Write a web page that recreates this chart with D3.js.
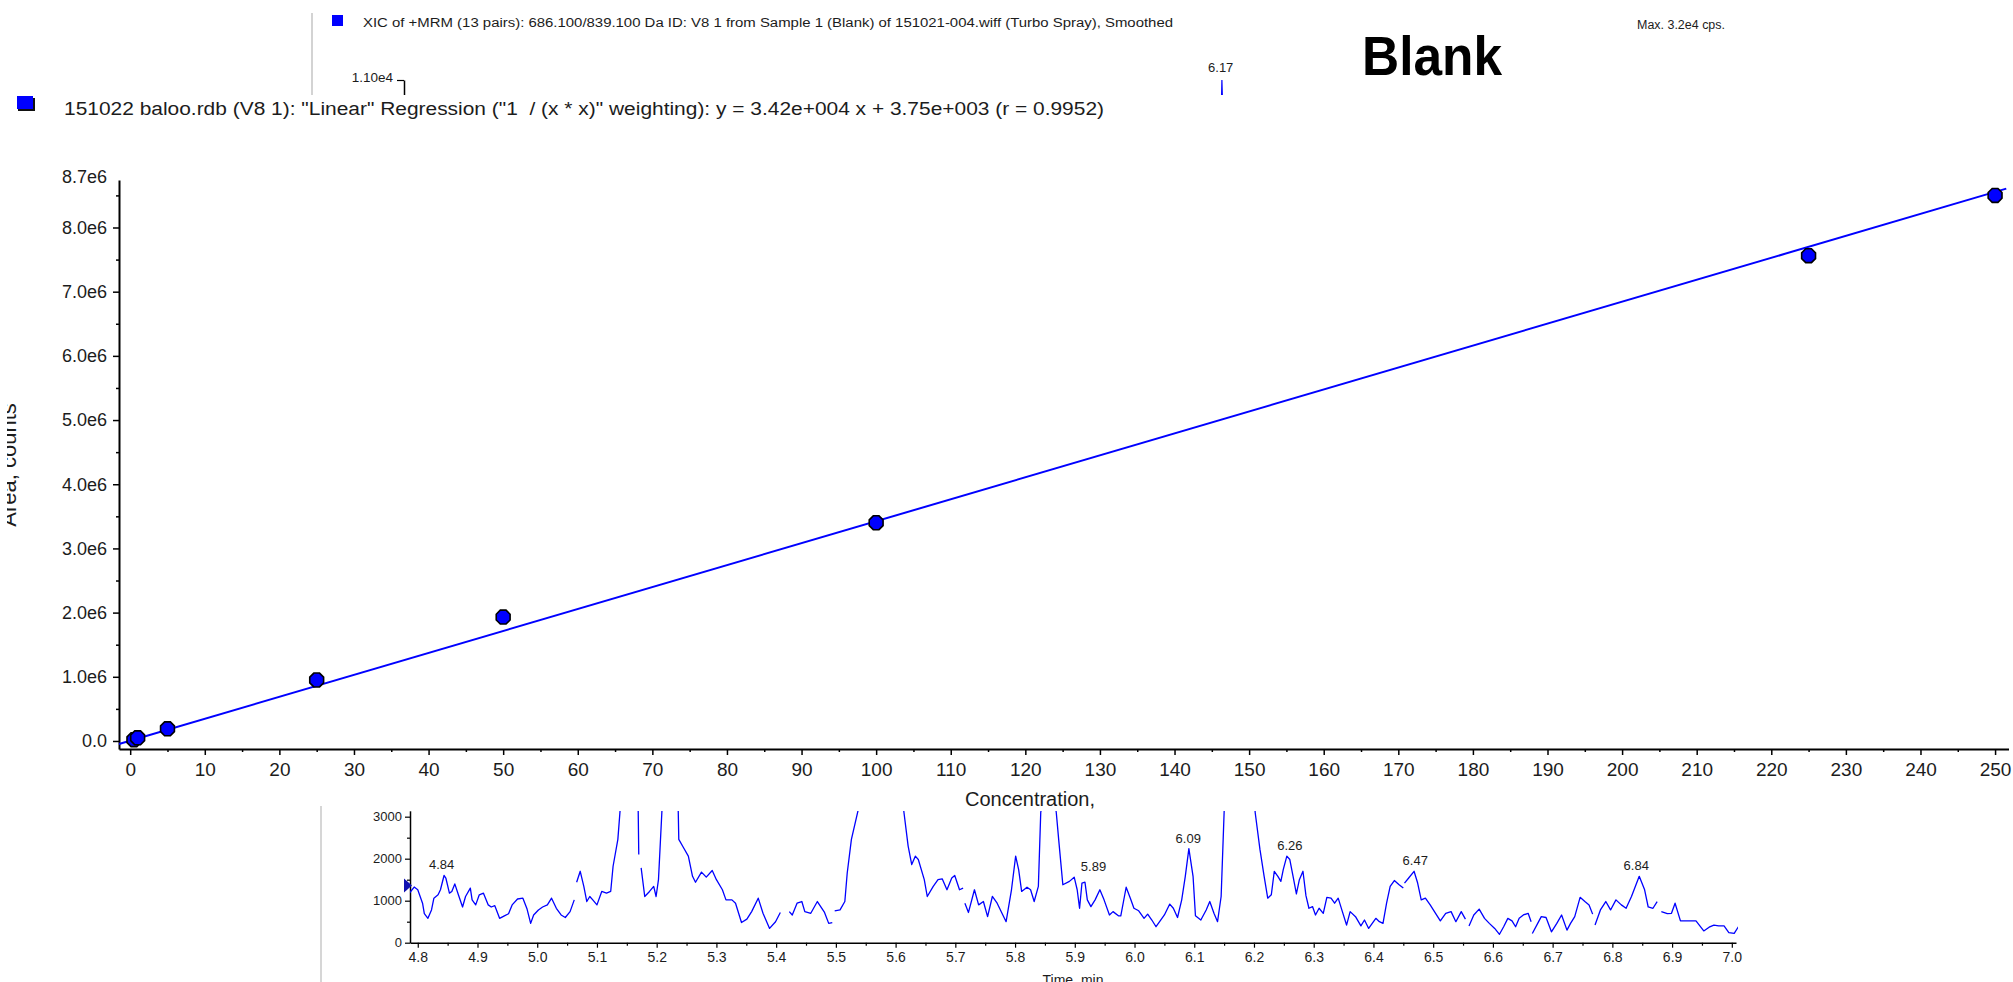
<!DOCTYPE html>
<html>
<head>
<meta charset="utf-8">
<script src="https://cdn.jsdelivr.net/npm/d3@7"></script>
<style>
  html, body { margin: 0; padding: 0; background: #fff; }
  svg { display: block; }
  text { font-family: "Liberation Sans", Arial, sans-serif; fill: #1c1c1c; }
  .axis .domain { stroke: #000; stroke-width: 2; }
  .axis .tick line { stroke: #000; stroke-width: 1.5; }
  .caxis .domain { stroke: #000; stroke-width: 1.5; }
  .caxis .tick line { stroke: #000; stroke-width: 1.2; }
</style>
</head>
<body>
<svg id="chart" width="2013" height="982"></svg>
<script>
// ---- Calibration standards (concentration vs. peak area) ----
const concentrations = [0.5, 1, 5, 25, 50, 100, 225, 250];
const areas = [0.02e6, 0.05e6, 0.19e6, 0.95e6, 1.93e6, 3.40e6, 7.56e6, 8.50e6];

// Weighted (1/x^2) linear regression reported for the curve
const fitSlope = 3.42e4;
const fitIntercept = 3.75e3;
const fitR = 0.9952;

// Axis ticks of the calibration curve
const areaTickValues = [0, 1e6, 2e6, 3e6, 4e6, 5e6, 6e6, 7e6, 8e6];
const areaTickLabels = ["0.0", "1.0e6", "2.0e6", "3.0e6", "4.0e6", "5.0e6", "6.0e6", "7.0e6", "8.0e6"];
const areaMax = 8.7e6;
const areaMaxLabel = "8.7e6";
const concTickValues = d3.range(0, 251, 10);
const concMinorTicks = d3.range(5, 250, 10);

// ---- XIC trace of the blank (time in min, intensity in cps); null = gap ----
const chromTime = [
  4.786,4.794,4.800,4.808,4.811,4.817,4.823,4.827,4.834,4.838,
  4.844,4.847,4.853,4.857,4.862,4.868,4.875,4.880,4.888,4.891,
  4.897,4.903,4.910,4.918,4.923,4.929,4.937,4.945,4.952,4.958,
  4.967,4.976,4.983,4.989,4.994,5.002,5.009,5.017,5.024,5.032,
  5.040,5.047,5.055,5.062,
  null,
  5.066,5.072,5.078,5.083,5.088,5.093,5.100,5.108,5.116,5.123,
  5.127,5.135,5.139,5.150,5.165,5.169,5.170,
  null,
  5.174,5.180,5.188,5.195,5.199,5.203,5.209,5.222,5.236,5.237,
  5.245,5.253,5.260,5.265,5.275,5.283,5.293,5.300,5.310,5.316,
  5.326,5.332,5.342,5.351,5.359,5.370,5.378,5.389,5.399,5.407,
  null,
  5.422,5.427,5.435,5.443,5.448,5.458,5.469,5.481,5.488,5.494,
  null,
  5.498,5.507,5.515,5.519,5.526,5.538,5.572,5.614,5.621,5.627,
  5.633,5.638,5.648,5.653,5.663,5.671,5.678,5.686,5.694,5.699,
  5.707,5.713,
  null,
  5.716,5.722,5.732,5.739,5.747,5.754,5.762,5.770,5.785,5.794,
  5.801,5.806,5.811,5.820,5.826,5.832,5.839,5.843,5.857,5.869,
  5.873,5.880,5.891,5.899,5.904,5.908,5.912,5.917,5.921,5.927,
  5.934,5.942,5.949,5.958,5.964,5.973,5.977,5.986,5.993,5.999,
  6.007,6.016,6.022,6.029,6.036,6.042,6.050,6.059,6.065,6.072,
  6.079,6.085,6.091,6.098,6.102,6.111,6.120,6.126,6.133,6.139,
  6.145,6.150,6.172,6.202,6.210,6.217,6.223,6.229,6.234,6.240,
  6.245,6.249,6.255,6.260,6.266,6.271,6.276,6.282,6.287,6.292,
  6.298,6.303,6.309,6.316,6.322,6.329,6.335,6.341,6.348,6.355,
  6.361,6.370,6.379,6.385,6.392,6.398,6.404,6.410,6.416,6.422,
  6.428,6.435,6.443,6.450,
  null,
  6.452,6.459,6.468,6.474,6.480,6.487,6.495,6.504,6.512,6.521,
  6.530,6.538,6.547,6.554,
  null,
  6.560,6.568,6.577,6.586,6.594,6.603,6.611,6.618,6.625,6.632,
  6.638,6.644,6.651,6.659,6.664,
  null,
  6.666,6.675,6.681,6.689,6.698,6.707,6.715,6.724,6.730,6.737,
  6.746,6.754,6.761,6.767,
  null,
  6.771,6.780,6.789,6.797,6.806,6.815,6.823,6.832,6.845,6.854,
  6.860,6.868,6.875,
  null,
  6.882,6.892,6.899,6.905,6.914,6.927,6.940,6.953,6.962,6.970,
  6.978,6.987,6.995,7.004,7.011
];
const chromIntensity = [
  1180,1325,1260,940,690,580,780,1060,1140,1260,
  1600,1540,1180,1220,1400,1140,850,1100,1300,1020,
  900,1140,1180,900,850,880,580,640,690,900,
  1040,1060,800,460,660,780,850,900,1060,820,
  660,600,740,1020,
  null,
  1440,1700,1340,980,1100,1020,900,1220,1180,1220,
  1820,2460,3200,4600,3600,3200,2100,
  null,
  1780,1100,1220,1340,1100,1500,3200,5400,3200,2460,
  2260,2060,1580,1440,1680,1560,1720,1500,1260,1020,
  1020,940,480,560,740,1060,700,340,500,720,
  null,
  740,660,940,980,740,700,980,720,460,480,
  null,
  760,780,980,1660,2460,3200,8200,3100,2300,1860,
  2060,1980,1500,1100,1340,1500,1520,1260,1540,1600,
  1260,1300,
  null,
  940,720,1260,900,980,620,1100,940,500,1260,
  2060,1740,1220,1320,1260,980,1340,3100,4300,3100,
  2460,1380,1460,1560,1260,820,1420,1440,1020,860,
  1020,1260,1020,660,740,640,640,1320,1060,820,
  760,580,680,540,380,500,660,920,820,600,
  1020,1580,2240,1580,640,540,780,980,700,500,
  1100,3100,11000,3100,2220,1580,1060,1140,1700,1580,
  1460,1740,2060,1980,1540,1160,1500,1700,1120,820,
  860,660,820,700,1080,1060,940,1060,740,420,
  740,620,400,540,340,460,580,500,460,940,
  1340,1480,1380,1300,
  null,
  1420,1540,1700,1420,1020,1060,900,700,520,700,
  740,500,740,560,
  null,
  400,660,800,580,460,340,200,380,580,520,
  380,580,660,700,500,
  null,
  220,460,620,600,260,460,660,300,460,620,
  1080,980,900,680,
  null,
  420,780,980,780,1020,900,820,1100,1580,1260,
  850,820,980,
  null,
  740,690,700,940,520,520,520,280,370,420,
  400,400,240,220,380
];

// Labelled peak apexes in the visible window
const peakTimes = [4.84, 5.89, 6.09, 6.26, 6.47, 6.84];
const peakApex = [1600, 1560, 2240, 2060, 1700, 1580];
const peakText = ["4.84", "5.89", "6.09", "6.26", "6.47", "6.84"];
const peakAnchor = ["middle", "start", "middle", "middle", "middle", "middle"];
// Apex of the tall peak, shown on the full-scale trace
const tallPeakTime = 6.17;
const tallPeakText = "6.17";

const timeTicks = d3.range(48, 71).map(v => v / 10);
const timeMinorTicks = d3.range(48, 70).map(v => v / 10 + 0.05);
const intensityTicks = [0, 1000, 2000, 3000];
const intensityMinorTicks = [500, 1500, 2500];
const fullScaleTick = 1.10e4;
const fullScaleLabel = "1.10e4";
const maxIntensityText = "Max. 3.2e4 cps.";

const xicTitle = "XIC of +MRM (13 pairs): 686.100/839.100 Da ID: V8 1 from Sample 1 (Blank) of 151021-004.wiff (Turbo Spray), Smoothed";
const sampleTitle = "Blank";

// ------------------------------------------------------------------
const svg = d3.select("#chart");
const blue = "#0000ff";

function sci(v) {
  const e = Math.floor(Math.log10(Math.abs(v)));
  const m = v / Math.pow(10, e);
  return m.toFixed(2) + "e" + (e >= 0 ? "+" : "-") + String(Math.abs(e)).padStart(3, "0");
}

const defs = svg.append("defs");
defs.append("clipPath").attr("id", "clipTop")
  .append("rect").attr("x", 0).attr("y", 0).attr("width", 2013).attr("height", 95);
defs.append("clipPath").attr("id", "clipChrom")
  .append("rect").attr("x", 410).attr("y", 811).attr("width", 1328).attr("height", 132);
defs.append("clipPath").attr("id", "clipYLabel")
  .append("rect").attr("x", 7).attr("y", 0).attr("width", 100).attr("height", 982);

// ================= Background XIC window =================
// Full-scale view (only its top strip shows above the calibration window)
const upperX = d3.scaleLinear().domain([4.787, 7.007]).range([404, 1715]);
const upperY = d3.scaleLinear().domain([0, 11000]).range([942.7, 80]);

const topG = svg.append("g");
topG.append("line")
  .attr("x1", 312).attr("x2", 312).attr("y1", 13).attr("y2", 95)
  .attr("stroke", "#c4c4c4").attr("stroke-width", 1.5);
topG.append("rect").attr("x", 332).attr("y", 15).attr("width", 11).attr("height", 11).attr("fill", blue);
topG.append("text").attr("x", 363).attr("y", 27)
  .attr("font-size", 12.5).attr("textLength", 810).attr("lengthAdjust", "spacingAndGlyphs")
  .text(xicTitle);
topG.append("text").attr("x", 1637).attr("y", 29)
  .attr("font-size", 12.5).attr("textLength", 88).attr("lengthAdjust", "spacingAndGlyphs")
  .text(maxIntensityText);
topG.append("text").attr("x", 1362).attr("y", 75)
  .attr("font-size", 56).attr("font-weight", "bold")
  .attr("textLength", 140).attr("lengthAdjust", "spacingAndGlyphs")
  .style("fill", "#000")
  .text(sampleTitle);

const upperClip = topG.append("g").attr("clip-path", "url(#clipTop)");
const upperAxis = upperClip.append("g")
  .attr("transform", `translate(${upperX.range()[0]},0)`)
  .call(d3.axisLeft(upperY).tickValues([fullScaleTick]).tickFormat(() => fullScaleLabel)
    .tickSize(7).tickSizeOuter(0).tickPadding(4));
upperAxis.select(".domain").attr("stroke", "#000").attr("stroke-width", 1.5);
upperAxis.selectAll(".tick line").attr("stroke", "#000").attr("stroke-width", 1.2);
upperAxis.selectAll(".tick text").attr("font-size", 13.5).attr("dy", "0.08em")
  .attr("font-family", null).attr("fill", null);

const idx = d3.range(chromTime.length);
const upperLine = d3.line()
  .defined(i => chromIntensity[i] !== null)
  .x(i => upperX(chromTime[i]))
  .y(i => upperY(chromIntensity[i]));
upperClip.append("path")
  .attr("d", upperLine(idx)).attr("fill", "none")
  .attr("stroke", blue).attr("stroke-width", 1.2);
topG.append("text").attr("x", upperX(tallPeakTime)).attr("y", 72)
  .attr("text-anchor", "middle").attr("font-size", 13).text(tallPeakText);

// Zoomed view below the calibration window
const cx = d3.scaleLinear().domain([4.787, 7.007]).range([410, 1736]);
const cy = d3.scaleLinear().domain([0, 3140]).range([942.7, 810.8]);

const chrom = svg.append("g");
chrom.append("line")
  .attr("x1", 321).attr("x2", 321).attr("y1", 806).attr("y2", 982)
  .attr("stroke", "#c8c8c8").attr("stroke-width", 1.5);

const cyAxis = chrom.append("g").attr("class", "caxis")
  .attr("transform", `translate(${cx.range()[0]},0)`)
  .call(d3.axisLeft(cy).tickValues(intensityTicks).tickFormat(d3.format("d"))
    .tickSize(5).tickSizeOuter(0).tickPadding(3));
cyAxis.selectAll(".tick text").attr("font-size", 13).attr("font-family", null).attr("fill", null);
chrom.append("g").attr("class", "caxis")
  .attr("transform", `translate(${cx.range()[0]},0)`)
  .call(d3.axisLeft(cy).tickValues(intensityMinorTicks).tickFormat("").tickSize(3))
  .select(".domain").remove();

const cxAxis = chrom.append("g").attr("class", "caxis")
  .attr("transform", `translate(0,${cy(0)})`)
  .call(d3.axisBottom(cx).tickValues(timeTicks).tickFormat(d3.format(".1f"))
    .tickSize(5).tickSizeOuter(0).tickPadding(4));
cxAxis.selectAll(".tick text").attr("font-size", 14).attr("font-family", null).attr("fill", null);
chrom.append("g").attr("class", "caxis")
  .attr("transform", `translate(0,${cy(0)})`)
  .call(d3.axisBottom(cx).tickValues(timeMinorTicks).tickFormat("").tickSize(3))
  .select(".domain").remove();

chrom.append("text").attr("x", 1073).attr("y", 985)
  .attr("text-anchor", "middle").attr("font-size", 14).text("Time, min");

const chromLine = d3.line()
  .defined(i => chromIntensity[i] !== null)
  .x(i => cx(chromTime[i]))
  .y(i => cy(chromIntensity[i]));
chrom.append("path").attr("clip-path", "url(#clipChrom)")
  .attr("d", chromLine(idx)).attr("fill", "none")
  .attr("stroke", blue).attr("stroke-width", 1.3).attr("stroke-linejoin", "round");

chrom.selectAll("text.peak").data(peakTimes).join("text")
  .attr("class", "peak")
  .attr("x", (d, i) => cx(d) + (peakAnchor[i] === "start" ? 12 : 0))
  .attr("y", (d, i) => cy(peakApex[i]) - 6)
  .attr("text-anchor", (d, i) => peakAnchor[i])
  .attr("font-size", 13)
  .text((d, i) => peakText[i]);

// Baseline marker on the intensity axis
const markerLevel = 1360;
const ax0 = cx.range()[0];
chrom.append("path")
  .attr("d", d3.line()([[ax0 - 6, cy(markerLevel) - 7], [ax0 + 2, cy(markerLevel)], [ax0 - 6, cy(markerLevel) + 7]]) + "Z")
  .attr("fill", "#1010b0");

// ================= Calibration curve window =================
const x = d3.scaleLinear().domain([-1.5, 251.8]).range([119, 2008.5]);
const y = d3.scaleLinear().domain([-0.125e6, 8.74e6]).range([749, 180]);

const cal = svg.append("g");

// Legend
cal.append("rect").attr("x", 18).attr("y", 98).attr("width", 17).attr("height", 13).attr("fill", "#111");
cal.append("rect").attr("x", 17).attr("y", 96).attr("width", 16).attr("height", 13).attr("fill", blue);
cal.append("text").attr("x", 64).attr("y", 115)
  .attr("font-size", 18).attr("textLength", 1040).attr("lengthAdjust", "spacingAndGlyphs")
  .style("white-space", "pre")
  .text(`151022 baloo.rdb (V8 1): "Linear" Regression ("1  / (x * x)" weighting): y = ${sci(fitSlope)} x + ${sci(fitIntercept)} (r = ${fitR.toFixed(4)})`);

// Axes
const yAxisG = cal.append("g").attr("class", "axis")
  .attr("transform", `translate(${x(x.domain()[0])},0)`)
  .call(d3.axisLeft(y).tickValues(areaTickValues).tickFormat((d, i) => areaTickLabels[i])
    .tickSize(6).tickSizeOuter(0).tickPadding(6));
yAxisG.selectAll(".tick text").attr("font-size", 18).attr("font-family", null).attr("fill", null);
cal.append("g").attr("class", "axis")
  .attr("transform", `translate(${x(x.domain()[0])},0)`)
  .call(d3.axisLeft(y).tickValues(areaTickValues.map(v => v + 0.5e6)).tickFormat("").tickSize(3))
  .select(".domain").remove();
cal.append("text")
  .attr("x", x(x.domain()[0]) - 12).attr("y", y(areaMax)).attr("dy", "0.05em")
  .attr("text-anchor", "end").attr("font-size", 18).text(areaMaxLabel);

const xAxisG = cal.append("g").attr("class", "axis")
  .attr("transform", `translate(0,${y(y.domain()[0])})`)
  .call(d3.axisBottom(x).tickValues(concTickValues).tickFormat(d3.format("d"))
    .tickSize(6).tickSizeOuter(0).tickPadding(8));
xAxisG.selectAll(".tick text").attr("font-size", 19).attr("font-family", null).attr("fill", null);
cal.append("g").attr("class", "axis")
  .attr("transform", `translate(0,${y(y.domain()[0])})`)
  .call(d3.axisBottom(x).tickValues(concMinorTicks).tickFormat("").tickSize(3))
  .select(".domain").remove();

cal.append("text").attr("x", 1030).attr("y", 806)
  .attr("text-anchor", "middle").attr("font-size", 20).text("Concentration,");

cal.append("g").attr("clip-path", "url(#clipYLabel)")
  .append("text")
  .attr("transform", "translate(16,465) rotate(-90)")
  .attr("text-anchor", "middle").attr("font-size", 22).text("Area, counts");

// Regression line
const fitX = [x.domain()[0], 251.5];
cal.append("path")
  .attr("d", d3.line()(fitX.map(c => [x(c), y(fitSlope * c + fitIntercept)])))
  .attr("stroke", blue).attr("stroke-width", 2).attr("fill", "none");

// Standards drawn as small octagons
const octR = 7.5;
const octagon = d3.line()(d3.range(8).map(k => {
  const a = Math.PI / 8 + k * Math.PI / 4;
  return [octR * Math.cos(a), octR * Math.sin(a)];
})) + "Z";
cal.selectAll("path.std").data(concentrations).join("path")
  .attr("class", "std")
  .attr("d", octagon)
  .attr("transform", (d, i) => `translate(${x(d)},${y(areas[i])})`)
  .attr("fill", blue).attr("stroke", "#000").attr("stroke-width", 1.6);
</script>
</body>
</html>
